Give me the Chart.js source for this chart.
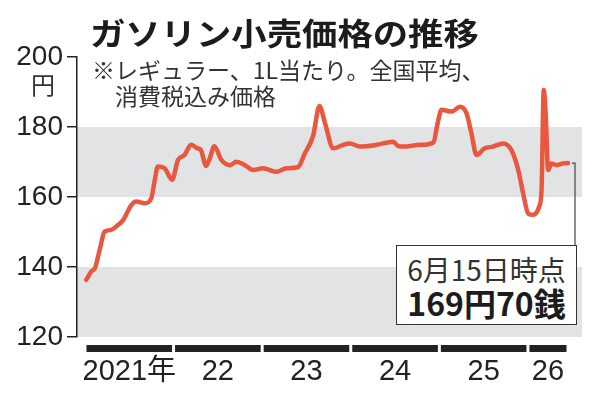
<!DOCTYPE html>
<html lang="ja">
<head>
<meta charset="utf-8">
<title>ガソリン小売価格の推移</title>
<script src="https://cdn.jsdelivr.net/npm/chart.js@4.4.1/dist/chart.umd.min.js"></script>
<style>
  html, body { margin: 0; padding: 0; background: #fff; }
  .wrap { position: relative; width: 596px; height: 400px; overflow: hidden; font-family: "Noto Sans CJK JP", sans-serif; color: #222; }
  .wrap canvas { position: absolute; left: 0; top: 0; }
  .title { position: absolute; left: 90px; top: 16px; font-size: 31px; line-height: 31px; font-weight: 700; white-space: nowrap; color: #1c1c1c; transform: scaleX(1.14); transform-origin: 0 0; }
  .note { position: absolute; font-size: 23px; line-height: 23px; white-space: nowrap; color: #333; }
  .unit { position: absolute; left: 31px; top: 72px; font-size: 24px; line-height: 24px; color: #333; }
  .callout { position: absolute; box-sizing: border-box; border: 1.5px solid #333; background: #fff; }
  .callout div { position: absolute; left: 0; right: 0; text-align: center; white-space: nowrap; }
  .callout .when { top: 9px; font-size: 28px; line-height: 28px; color: #333; }
  .callout .price { top: 40px; font-size: 32px; line-height: 32px; font-weight: 700; color: #1c1c1c; }
</style>
</head>
<body>
<div class="wrap">
  <canvas id="gasChart" width="596" height="400"></canvas>
  <div class="title">ガソリン小売価格の推移</div>
  <div class="note" style="left:92px; top:58px;">※レギュラー、1L当たり。全国平均、</div>
  <div class="note" style="left:115px; top:84px;">消費税込み価格</div>
  <div class="unit">円</div>
  <div class="callout" id="callout">
    <div class="when">6月15日時点</div>
    <div class="price">169円70銭</div>
  </div>
</div>
<script>
// weekly survey dates and regular gasoline price (yen per litre)
const weeks = [
  '2021-01-06', '2021-01-28', '2021-02-11', '2021-03-03', '2021-03-23', '2021-04-19',
  '2021-05-17', '2021-06-07', '2021-07-11', '2021-07-31', '2021-09-04', '2021-10-01',
  '2021-10-16', '2021-10-28', '2021-11-25', '2021-12-26',
  '2022-01-19', '2022-02-15', '2022-03-14', '2022-04-10', '2022-04-23', '2022-05-15',
  '2022-05-30', '2022-06-18', '2022-07-17', '2022-08-21', '2022-09-17', '2022-10-22',
  '2022-11-25',
  '2023-01-05', '2023-03-01', '2023-04-11', '2023-05-28', '2023-06-26', '2023-07-30',
  '2023-08-25', '2023-09-17', '2023-10-21', '2023-12-01', '2023-12-28',
  '2024-02-08', '2024-04-16', '2024-06-24', '2024-07-14', '2024-08-05', '2024-10-13',
  '2024-12-08', '2024-12-22',
  '2025-01-10', '2025-02-21', '2025-03-27', '2025-04-23', '2025-05-13', '2025-06-03',
  '2025-07-07', '2025-08-10', '2025-09-20', '2025-10-25', '2025-11-22', '2025-12-12',
  '2026-01-02', '2026-01-22', '2026-02-16', '2026-02-26', '2026-03-07', '2026-03-15',
  '2026-03-25', '2026-04-08', '2026-04-29', '2026-05-27', '2026-06-15'
];
const prices = [
  136.3, 138.8, 139.7, 145.0, 150.1, 150.6,
  152.0, 153.4, 157.7, 158.7, 158.2, 159.6,
  165.0, 168.7, 168.2, 164.9,
  170.6, 172.0, 174.9, 173.9, 173.5, 168.9,
  171.0, 174.5, 170.6, 169.1, 170.1, 169.1,
  167.7,
  168.2, 167.2, 168.2, 168.5, 172.5, 177.5,
  186.0, 181.1, 173.9, 174.9, 175.3,
  174.4, 174.9, 175.8, 174.6, 174.4, 174.9,
  175.6, 180.1,
  184.9, 184.4, 185.8, 183.9, 178.2, 172.0,
  173.9, 174.4, 175.3, 173.4, 167.7, 161.1,
  155.3, 154.9, 157.2, 162.0, 190.6, 183.9,
  167.7, 169.6, 169.1, 169.6, 169.7
];
const yearStarts = [2021, 2022, 2023, 2024, 2025, 2026];
const yearLabels = ['2021年', '22', '23', '24', '25', '26'];
const yTicks = [120, 140, 160, 180, 200];
const shadedBands = [[120, 140], [160, 180]];

const calloutBox = { left: 396, top: 245, width: 181, height: 80 };

function toYear(s) {
  const [yy, mm, dd] = s.split('-').map(Number);
  const start = Date.UTC(yy, 0, 1);
  const next = Date.UTC(yy + 1, 0, 1);
  return yy + (Date.UTC(yy, mm - 1, dd) - start) / (next - start);
}

const points = weeks.map((d, i) => ({ x: toYear(d), y: prices[i] }));
const lastX = points[points.length - 1].x;
const yearEnds = yearStarts.map((s, i) => (i < yearStarts.length - 1 ? yearStarts[i + 1] : lastX));
const yearCenters = yearStarts.map((s, i) => (s + yearEnds[i]) / 2);

const box = document.getElementById('callout');
box.style.left = calloutBox.left + 'px';
box.style.top = calloutBox.top + 'px';
box.style.width = calloutBox.width + 'px';
box.style.height = calloutBox.height + 'px';

// gray bands behind the line
const bandsPlugin = {
  id: 'bands',
  beforeDraw(chart) {
    const { ctx, chartArea, scales: { y } } = chart;
    ctx.save();
    ctx.fillStyle = '#e2e3e5';
    shadedBands.forEach(([lo, hi]) => {
      const top = y.getPixelForValue(hi);
      const bottom = y.getPixelForValue(lo);
      ctx.fillRect(chartArea.left, top, chartArea.right - chartArea.left, bottom - top);
    });
    ctx.restore();
  }
};

// black year bars under the plot + leader line to the callout
const extrasPlugin = {
  id: 'extras',
  afterDraw(chart) {
    const { ctx, chartArea, scales: { x } } = chart;
    ctx.save();
    ctx.fillStyle = '#222';
    yearStarts.forEach((s, i) => {
      const x0 = x.getPixelForValue(s) + 1.5;
      const x1 = x.getPixelForValue(yearEnds[i]) - 1.5;
      ctx.fillRect(x0, chartArea.bottom + 8, x1 - x0, 7);
    });

    const last = chart.getDatasetMeta(0).data[points.length - 1];
    const lx = calloutBox.left + calloutBox.width - 2;
    ctx.strokeStyle = '#444';
    ctx.lineWidth = 1.2;
    ctx.beginPath();
    ctx.moveTo(last.x + 4, last.y);
    ctx.lineTo(lx, last.y);
    ctx.lineTo(lx, calloutBox.top);
    ctx.stroke();
    ctx.restore();
  }
};

const ctx = document.getElementById('gasChart').getContext('2d');
new Chart(ctx, {
  type: 'line',
  data: {
    datasets: [{
      data: points,
      borderColor: '#e9573f',
      borderWidth: 4.5,
      pointRadius: 0,
      cubicInterpolationMode: 'monotone',
      borderJoinStyle: 'round',
      borderCapStyle: 'round',
      fill: false
    }]
  },
  options: {
    responsive: false,
    animation: false,
    layout: { padding: { top: 57, right: 14, left: 0, bottom: 0 } },
    plugins: {
      legend: { display: false },
      tooltip: { enabled: false }
    },
    scales: {
      x: {
        type: 'linear',
        min: 2020.91,
        max: 2026.61,
        afterFit: s => { s.height = 63; },
        afterBuildTicks: s => { s.ticks = yearCenters.map(v => ({ value: v })); },
        ticks: {
          color: '#222',
          font: { family: '"Liberation Sans", "Noto Sans CJK JP"', size: 29 },
          padding: 18,
          autoSkip: false,
          maxRotation: 0,
          minRotation: 0,
          callback: (v, i) => yearLabels[i]
        },
        grid: { display: false, drawTicks: false },
        border: { display: false }
      },
      y: {
        min: 120,
        max: 200,
        afterFit: s => { s.width = 77; },
        afterBuildTicks: s => { s.ticks = yTicks.map(v => ({ value: v })); },
        ticks: {
          color: '#222',
          font: { family: '"Liberation Sans"', size: 28 },
          padding: 4
        },
        grid: { drawOnChartArea: false, drawTicks: true, tickLength: 10, color: '#222', lineWidth: 1.5 },
        border: { display: true, color: '#222', width: 1.5 }
      }
    }
  },
  plugins: [bandsPlugin, extrasPlugin]
});
</script>
</body>
</html>
